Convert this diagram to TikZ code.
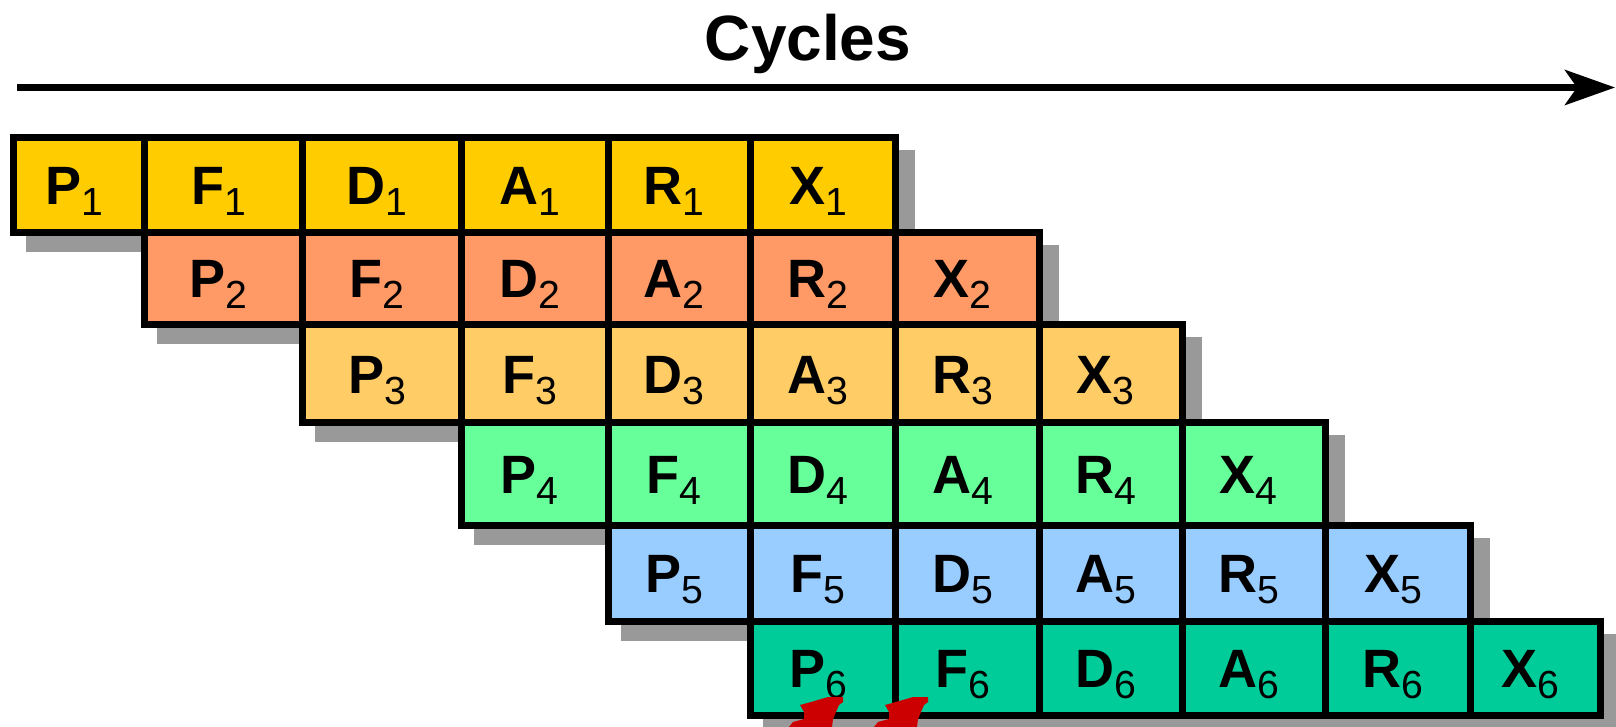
\documentclass[tikz,border=0pt]{standalone}
\usepackage{fontspec}
\setmainfont{Liberation Sans}
\usetikzlibrary{arrows.meta}
\definecolor{rowA}{HTML}{FFCC00}
\definecolor{rowB}{HTML}{FF9966}
\definecolor{rowC}{HTML}{FFCC66}
\definecolor{rowD}{HTML}{66FF99}
\definecolor{rowE}{HTML}{99CCFF}
\definecolor{rowF}{HTML}{00CC99}
\definecolor{shadowgray}{HTML}{999999}
\definecolor{markred}{HTML}{CC0000}
\newcommand\cellsub[1]{\raisebox{-5.5pt}{\fontsize{19.6pt}{20pt}\selectfont\mdseries #1}\kern5pt}
\begin{document}
\begin{tikzpicture}[x=0.5pt,y=-0.5pt,
  cell/.style={draw=black, line width=3.5pt, inner sep=0pt, outer sep=0pt,
    text height=19.5pt, text depth=0pt,
    font=\fontsize{27pt}{30pt}\selectfont\bfseries},
  shadowbox/.style={fill=shadowgray},
  axisline/.style={line width=3.5pt, -{Stealth[length=25pt,width=17.5pt,inset=6pt]}},
  titletext/.style={font=\fontsize{32pt}{36pt}\selectfont\bfseries, anchor=base},
  redmark/.style={fill=markred}]
\useasboundingbox (0,0) rectangle (1616,727);
\clip (0,0) rectangle (1616,727);
\def\XA{{13.5,144.5,302.5,461.5,608,750.5,895.5,1039.5,1182,1325.5,1470.5,1600.5}}
\def\YA{{137.5,232.5,324.5,422.5,525,621,715}}
% title and axis
\node[titletext] (title) at (808,61) {Cycles};
\coordinate (axisstart) at (17,87.5);
\coordinate (axisend) at (1615,87.5);
\draw[axisline] (axisstart) -- (axisend);
% shadows
\foreach \r in {0,...,5} {
  \pgfmathsetmacro\xl{\XA[\r]}
  \pgfmathsetmacro\xr{\XA[\r+6]}
  \pgfmathsetmacro\yt{\YA[\r]}
  \pgfmathsetmacro\yb{\YA[\r+1]}
  \fill[shadowbox] (\xl+12.5,\yt+12.5) rectangle (\xr+19.5,\yb+19.5);
}
% cells
\foreach \r/\col in {0/rowA,1/rowB,2/rowC,3/rowD,4/rowE,5/rowF} {
  \foreach \lt [count=\k from 0] in {P,F,D,A,R,X} {
    \pgfmathsetmacro\xl{\XA[\r+\k]}
    \pgfmathsetmacro\xr{\XA[\r+\k+1]}
    \pgfmathsetmacro\yt{\YA[\r]}
    \pgfmathsetmacro\yb{\YA[\r+1]}
    \pgfmathsetmacro\w{(\xr-\xl)*0.5}
    \pgfmathsetmacro\h{(\yb-\yt)*0.5}
    \pgfmathtruncatemacro\n{\r+1}
    \node[cell, fill=\col, minimum width=\w pt, minimum height=\h pt] (\lt\n)
      at ({(\xl+\xr)/2},{(\yt+\yb)/2}) {\lt\cellsub{\n}};
  }
}
% red marks
\fill[redmark] (828,697) -- (843,697) -- (843,702) -- (839,705) -- (836,712) -- (833,719) -- (832,727) -- (789,727) -- (793,722) -- (804,719) -- (804,712) -- (800,705) -- (811,702) -- cycle;
\fill[redmark] (913,697) -- (928,697) -- (928,702) -- (924,705) -- (921,712) -- (918,719) -- (917,727) -- (874,727) -- (878,722) -- (889,719) -- (889,712) -- (885,705) -- (896,702) -- cycle;
\end{tikzpicture}
\end{document}
